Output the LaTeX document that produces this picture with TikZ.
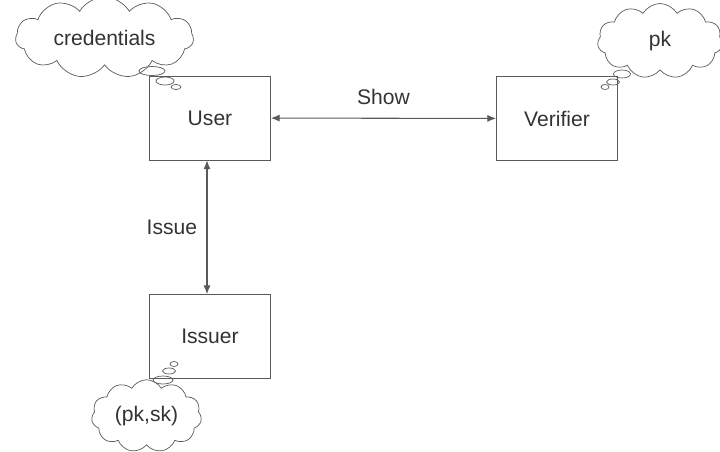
\documentclass[tikz,border=0pt]{standalone}
\usepackage{fontspec}
\setmainfont{Liberation Sans}
\usepackage{xcolor}
\usepackage{tikz}
\usetikzlibrary{shapes.symbols,shapes.geometric,arrows.meta}

\definecolor{linegray}{HTML}{5A5A5A}
\definecolor{textgray}{HTML}{333333}

\begin{document}
\begin{tikzpicture}[
    font=\fontsize{12}{14}\selectfont, text=textgray,
    party/.style={rectangle,draw=linegray,minimum width=2.42cm,minimum height=1.68cm},
    thought/.style={cloud,cloud puffs=11,cloud puff arc=120,aspect=2.4,draw=linegray,inner sep=0pt},
    puff/.style={ellipse,draw=linegray,inner sep=0pt},
    link/.style={{Latex[length=5pt,width=4pt]}-{Latex[length=5pt,width=4pt]},draw=linegray,line width=0.6pt}]
    \useasboundingbox (0,0) rectangle (14.4,9.02);

    \node[party] (U) at (4.2,6.66) {User};
    \node[party] (V) at (11.14,6.65) {Verifier};
    \node[party] (I) at (4.2,2.29) {Issuer};

    % what each party holds
    \node[thought,minimum width=3.56cm,minimum height=1.4cm] (C1) at (2.09,8.27) {credentials};
    \node[thought,minimum width=2.5cm,minimum height=1.5cm] (C2) at (13.2,8.2) {pk};
    \node[thought,minimum width=2.2cm,minimum height=1.45cm] (C3) at (2.93,0.7) {(pk,sk)};

    \node[puff,minimum width=0.52cm,minimum height=0.18cm] (C1a) at (3.04,7.6) {};
    \node[puff,minimum width=0.36cm,minimum height=0.16cm] (C1b) at (3.3,7.4) {};
    \node[puff,minimum width=0.2cm,minimum height=0.1cm] (C1c) at (3.52,7.28) {};
    \node[puff,minimum width=0.34cm,minimum height=0.16cm] (C2a) at (12.44,7.54) {};
    \node[puff,minimum width=0.26cm,minimum height=0.12cm] (C2b) at (12.26,7.38) {};
    \node[puff,minimum width=0.16cm,minimum height=0.1cm] (C2c) at (12.1,7.28) {};
    \node[puff,minimum width=0.4cm,minimum height=0.16cm] (C3a) at (3.26,1.42) {};
    \node[puff,minimum width=0.26cm,minimum height=0.12cm] (C3b) at (3.38,1.6) {};
    \node[puff,minimum width=0.16cm,minimum height=0.1cm] (C3c) at (3.48,1.74) {};

    \draw[link] (U) -- node[above=4pt] {Show} (V);
    \draw[link] ([xshift=-0.06cm]U.south) -- node[left=2pt] {Issue} ([xshift=-0.06cm]I.north);
\end{tikzpicture}
\end{document}
